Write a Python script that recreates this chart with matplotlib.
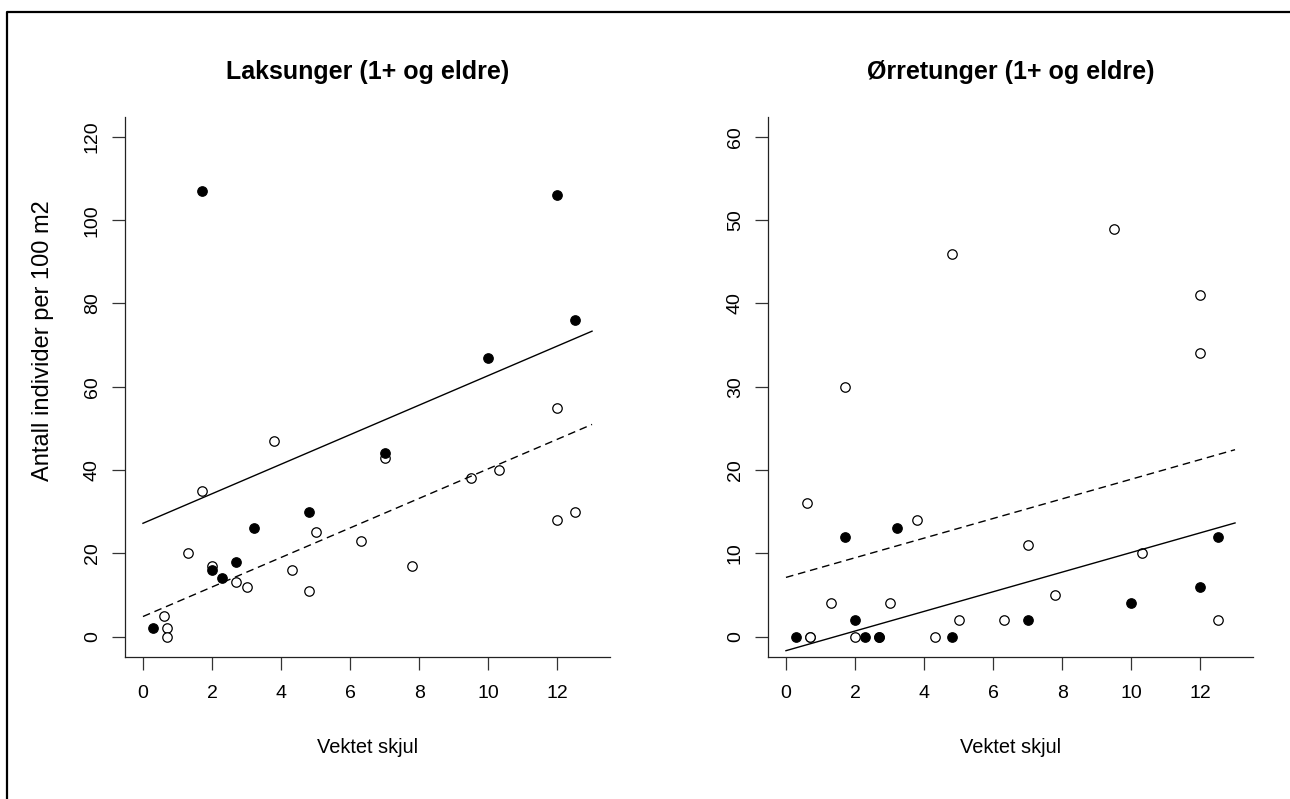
import numpy as np
import matplotlib.pyplot as plt
from matplotlib.lines import Line2D

plt.rcParams['font.family'] = ['Liberation Sans', 'DejaVu Sans']

# vektet skjul per stasjon, to grupper (fylte og apne punkter)
skjul_fylt = [0.3, 1.7, 2.0, 2.3, 2.7, 3.2, 4.8, 7.0, 10.0, 12.0, 12.5]
skjul_aapen = [0.6, 0.7, 0.7, 1.3, 1.7, 2.0, 2.7, 3.0, 3.8, 4.3, 4.8, 5.0,
               6.3, 7.0, 7.8, 9.5, 10.3, 12.0, 12.0, 12.5]

# tetthet, antall individer per 100 m2
laks_fylt = [2, 107, 16, 14, 18, 26, 30, 44, 67, 106, 76]
laks_aapen = [5, 2, 0, 20, 35, 17, 13, 12, 47, 16, 11, 25, 23, 43, 17, 38,
              40, 55, 28, 30]
orret_fylt = [0, 12, 2, 0, 0, 13, 0, 2, 4, 6, 12]
orret_aapen = [16, 0, 0, 4, 30, 0, 0, 4, 14, 0, 46, 2, 2, 11, 5, 49, 10, 41,
               34, 2]

# modell med felles stigning: (skjaering fylt, skjaering apen, stigning)
laks_modell = (27.2, 4.8, 3.55)
orret_modell = (-1.7, 7.1, 1.18)

titler = ['Laksunger (1+ og eldre)', '\u00d8rretunger (1+ og eldre)']
ylim = [(0, 120), (0, 60)]
yticks = [np.arange(0, 121, 20), np.arange(0, 61, 10)]
xticks = np.arange(0, 13, 2)
linje_x = np.array([0, 13])

W, H = 1290, 799
fig = plt.figure(figsize=(W / 100, H / 100), dpi=100)

# ramme rundt figuren (venstre og topp)
fig.add_artist(Line2D([7 / W, 7 / W, 1], [0, 1 - 12 / H, 1 - 12 / H],
                      transform=fig.transFigure, color='black', lw=1.6))

venstre_kant = [125, 768]
for i, (yf, ya, modell) in enumerate([(laks_fylt, laks_aapen, laks_modell),
                                        (orret_fylt, orret_aapen, orret_modell)]):
    ax = fig.add_axes([venstre_kant[i] / W, 1 - 656.5 / H, 485 / W, 539.5 / H])

    ax.plot(skjul_aapen, ya, 'o', ms=6.8, mfc='white', mec='black', mew=0.9)
    ax.plot(skjul_fylt, yf, 'o', ms=6.8, mfc='black', mec='black', mew=0.9)

    a_fylt, a_aapen, b = modell
    ax.plot(linje_x, a_fylt + b * linje_x, color='black', lw=1.0)
    ax.plot(linje_x, a_aapen + b * linje_x, color='black', lw=1.0,
            dashes=(5.5, 3.5))

    lo, hi = ylim[i]
    pad = 0.04 * (hi - lo)
    ax.set_ylim(lo - pad, hi + pad)
    ax.set_xlim(-0.52, 13.52)
    ax.set_xticks(xticks)
    ax.set_yticks(yticks[i])

    for s in ['top', 'right']:
        ax.spines[s].set_visible(False)
    for s in ['left', 'bottom']:
        ax.spines[s].set_linewidth(0.9)
        ax.spines[s].set_color('#222222')
    ax.tick_params(length=9.4, width=0.9, color='#333333', labelsize=14)
    ax.tick_params(axis='x', pad=11)
    ax.tick_params(axis='y', pad=8)
    for lbl in ax.get_yticklabels():
        lbl.set_rotation(90)
        lbl.set_va('center')

    ax.text(0.5, 1.084, titler[i], transform=ax.transAxes, ha='center',
            va='center', fontsize=18, fontweight='bold')
    ax.text(0.5, -0.169, 'Vektet skjul', transform=ax.transAxes,
            ha='center', va='center', fontsize=14.4)

fig.text(43 / W, 1 - 341 / H, 'Antall individer per 100 m2', rotation=90,
         ha='center', va='center', fontsize=17)

fig.savefig('out.png', dpi=100, facecolor='white')
